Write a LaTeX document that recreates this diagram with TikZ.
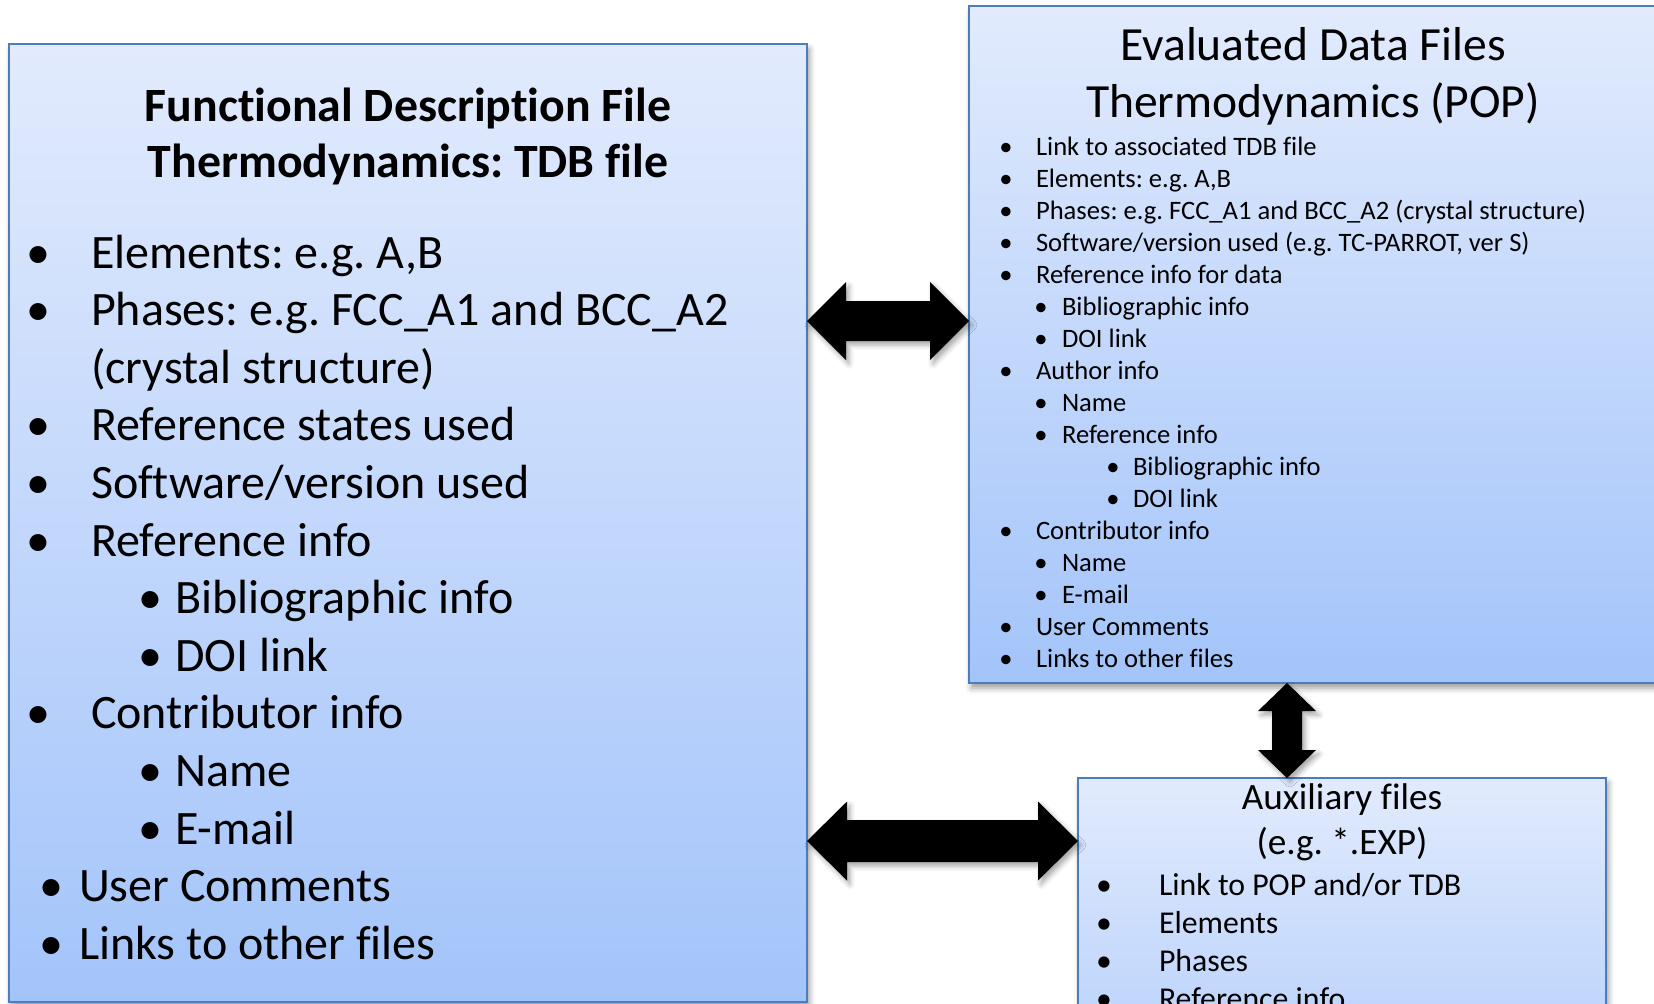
\documentclass[tikz,border=0pt]{standalone}
\usepackage{fontspec}
\setmainfont{Carlito}[Ligatures=NoCommon]
\frenchspacing
\usetikzlibrary{calc,shadows.blur}
\definecolor{boxtop}{RGB}{226,235,253}
\definecolor{boxbot}{RGB}{163,196,250}
\definecolor{boxline}{RGB}{74,126,187}
\tikzset{
  box/.style={draw=boxline, line width=1.2pt, top color=boxtop, bottom color=boxbot,
    inner sep=0pt, outer sep=0pt, anchor=north west,
    blur shadow={shadow xshift=1.2pt, shadow yshift=-2.5pt, shadow blur radius=3pt, shadow opacity=40}},
  blockarr/.style={fill=black,
    blur shadow={shadow xshift=1.5pt, shadow yshift=-2pt, shadow blur radius=2.5pt, shadow opacity=35}},
  bul/.style={anchor=base, inner sep=0pt, outer sep=0pt},
  txt/.style={anchor=base west, inner sep=0pt, outer sep=0pt},
  ttl/.style={anchor=base, inner sep=0pt, outer sep=0pt},
  lbody/.style={font=\fontsize{24}{28}\selectfont},
  ltitle/.style={font=\fontsize{23.9}{28}\selectfont\bfseries},
  rtitle/.style={font=\fontsize{23.8}{28}\selectfont},
  rbody/.style={font=\fontsize{13.3}{16}\selectfont},
  atitle/.style={font=\fontsize{18.6}{22}\selectfont},
  abody/.style={font=\fontsize{15.9}{19}\selectfont},
}
\newcommand\harr[5]{\fill[blockarr] let \p1=(#1), \p2=(#2) in
  (\x1,\y1) -- (\x1+#3,\y1+#4) -- (\x1+#3,\y1+#5) -- (\x2-#3,\y1+#5) -- (\x2-#3,\y1+#4)
  -- (\x2,\y1) -- (\x2-#3,\y1-#4) -- (\x2-#3,\y1-#5) -- (\x1+#3,\y1-#5) -- (\x1+#3,\y1-#4) -- cycle;}
\newcommand\varr[5]{\fill[blockarr] let \p1=(#1), \p2=(#2) in
  (\x1,\y1) -- (\x1+#4,\y1-#3) -- (\x1+#5,\y1-#3) -- (\x1+#5,\y2+#3) -- (\x1+#4,\y2+#3)
  -- (\x1,\y2) -- (\x1-#4,\y2+#3) -- (\x1-#5,\y2+#3) -- (\x1-#5,\y1-#3) -- (\x1-#4,\y1-#3) -- cycle;}
\begin{document}
\begin{tikzpicture}[x=0.5pt,y=-0.5pt]
\useasboundingbox (0,0) rectangle (1654,1003);
% boxes
\node[box, minimum width=399pt, minimum height=479pt] (L) at (9,44) {};
\node[box, minimum width=345pt, minimum height=338.5pt] (TR) at (969,6) {};
\node[box, minimum width=264pt, minimum height=210pt] (BR) at (1078,778) {};
% left box
\node[ttl, ltitle] (lt1) at (408,121) {Functional Description File};
\node[ttl, ltitle] (lt2) at (408,177) {Thermodynamics: TDB file};
\foreach [count=\i] \dx/\tx/\t in {
  38/91/{Elements: e.g. A,B},
  38/91/{Phases: e.g. FCC\_A1 and BCC\_A2},
  0/91/{(crystal structure)},
  38/91/{Reference states used},
  38/91/{Software/version used},
  38/91/{Reference info},
  150/175/{Bibliographic info},
  150/175/{DOI link},
  38/91/{Contributor info},
  150/175/{Name},
  150/175/{E-mail},
  51/79/{User Comments},
  51/79/{Links to other files}} {
  \ifnum\dx>0 \node[bul, lbody] (lb\i) at ({\dx},{268+57.6*(\i-1)}) {\textbullet}; \fi
  \node[txt, lbody] (lx\i) at ({\tx},{268+57.6*(\i-1)}) {\t};
}
% top right box
\node[ttl, rtitle] (rt1) at (1313,60) {Evaluated Data Files};
\node[ttl, rtitle] (rt2) at (1313,117) {Thermodynamics (POP)};
\foreach [count=\i from 0] \dx/\tx/\t in {
  1006/1036/{Link to associated TDB file},
  1006/1036/{Elements: e.g. A,B},
  1006/1036/{Phases: e.g. FCC\_A1 and BCC\_A2 (crystal structure)},
  1006/1036/{Software/version used (e.g. TC-PARROT, ver S)},
  1006/1036/{Reference info for data},
  1041/1062/{Bibliographic info},
  1041/1062/{DOI link},
  1006/1036/{Author info},
  1041/1062/{Name},
  1041/1062/{Reference info},
  1113/1133/{Bibliographic info},
  1113/1133/{DOI link},
  1006/1036/{Contributor info},
  1041/1062/{Name},
  1041/1062/{E-mail},
  1006/1036/{User Comments},
  1006/1036/{Links to other files}} {
  \node[bul, rbody] (rb\i) at ({\dx},{155+32*\i}) {\textbullet};
  \node[txt, rbody] (rx\i) at ({\tx},{155+32*\i}) {\t};
}
% bottom right box
\node[ttl, atitle] (at1) at (1342,809) {Auxiliary files};
\node[ttl, atitle] (at2) at (1342,854) {(e.g. *.EXP)};
\foreach [count=\i from 0] \t in {
  {Link to POP and/or TDB}, {Elements}, {Phases}, {Reference info}} {
  \node[bul, abody] (ab\i) at ({1104},{895+38*\i}) {\textbullet};
  \node[txt, abody] (ax\i) at ({1159},{895+38*\i}) {\t};
}
% block arrows
\coordinate (y1) at (0,321);
\coordinate (y2) at (0,841);
\coordinate (x3) at (1287,0);
\harr{L.east |- y1}{TR.west |- y1}{19.5pt}{19.5pt}{10pt}
\harr{L.east |- y2}{BR.west |- y2}{20pt}{19.75pt}{10.5pt}
\varr{x3 |- TR.south}{x3 |- BR.north}{14pt}{14.5pt}{7.5pt}
\end{tikzpicture}
\end{document}
